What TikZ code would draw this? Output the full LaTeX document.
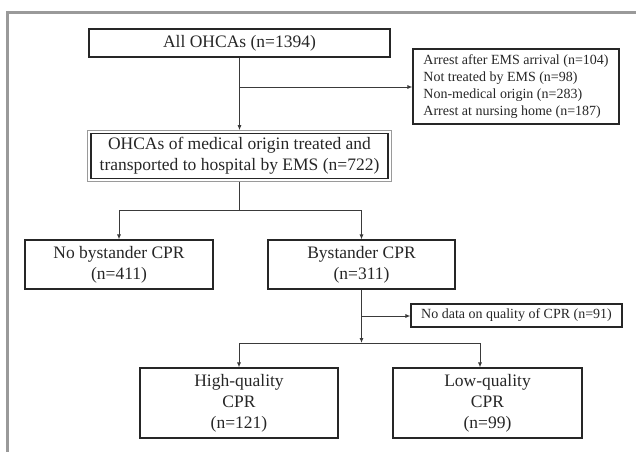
\documentclass[tikz,border=0pt]{standalone}
\usepackage{fontspec}
\setmainfont{Liberation Serif}
\usetikzlibrary{arrows.meta,positioning}
\definecolor{frameg}{HTML}{9A9A9A}
\definecolor{boxc}{HTML}{262626}
\definecolor{linec}{HTML}{3A3A3A}
\tikzset{
  box/.style={draw=boxc, line width=1.1pt, inner sep=0pt, align=center,
    font=\fontsize{17.5}{21}\selectfont, text=black!85},
  smallbox/.style={draw=boxc, line width=1.1pt, inner sep=0pt, align=left,
    font=\fontsize{14}{17}\selectfont, text=black!85},
  conn/.style={draw=linec, line width=0.9pt},
  arr/.style={conn, -{Latex[length=5pt,width=4pt]}},
}
\begin{document}
\begin{tikzpicture}[x=1pt,y=-1pt]
\useasboundingbox (0,0) rectangle (636,452);
% frame
\draw[frameg, line width=3pt] (6,12.5) -- (636,12.5);
\draw[frameg, line width=3pt] (7.5,11) -- (7.5,452);
% nodes
\node[box, minimum width=301pt, minimum height=28pt] (all) at (239.5,43) {All OHCAs (n=1394)};
\node[smallbox, minimum width=206pt, minimum height=75pt] (excl) at (516,86.5)
  {Arrest after EMS arrival (n=104)\\Not treated by EMS (n=98)\\Non-medical origin (n=283)\\Arrest at nursing home (n=187)};
\node[box, minimum width=297pt, minimum height=45pt] (med) at (239.5,156)
  {OHCAs of medical origin treated and\\transported to hospital by EMS (n=722)};
\draw[frameg, line width=1pt] ([shift={(-2.8pt,2.8pt)}]med.north west) rectangle ([shift={(2.8pt,-2.8pt)}]med.south east);
\node[box, minimum width=188pt, minimum height=49pt] (nobys) at (119,264.5) {No bystander CPR\\(n=411)};
\node[box, minimum width=187pt, minimum height=49pt] (bys) at (361.5,264.5) {Bystander CPR\\(n=311)};
\node[smallbox, minimum width=211pt, minimum height=23pt, align=center] (nodata) at (516.5,315.5) {No data on quality of CPR (n=91)};
\node[box, minimum width=198pt, minimum height=70pt] (high) at (239,403) {High-quality\\CPR\\(n=121)};
\node[box, minimum width=189pt, minimum height=70pt] (low) at (487.5,403) {Low-quality\\CPR\\(n=99)};
% coordinates
\coordinate (b1) at (239.5,87);
\coordinate (s1) at (239.5,210);
\coordinate (s1l) at (119,210);
\coordinate (s1r) at (361.5,210);
\coordinate (b2) at (361.5,316);
\coordinate (s2) at (361.5,343);
\coordinate (s2l) at (239,343);
\coordinate (s2r) at (480,343);
% connectors
\draw[arr] (all.south) -- ([yshift=2.8pt]med.north);
\draw[arr] (b1) -- (b1 -| excl.west);
\draw[conn] ([yshift=-2.8pt]med.south) -- (s1);
\draw[conn] (s1l) -- (s1r);
\draw[arr] (s1l) -- (nobys.north);
\draw[arr] (s1r) -- (bys.north);
\draw[arr] (bys.south) -- (s2);
\draw[arr] (b2) -- (b2 -| nodata.west);
\draw[conn] (s2l) -- (s2r);
\draw[arr] (s2l) -- (high.north);
\draw[arr] (s2r) -- (s2r |- low.north);
\end{tikzpicture}
\end{document}
